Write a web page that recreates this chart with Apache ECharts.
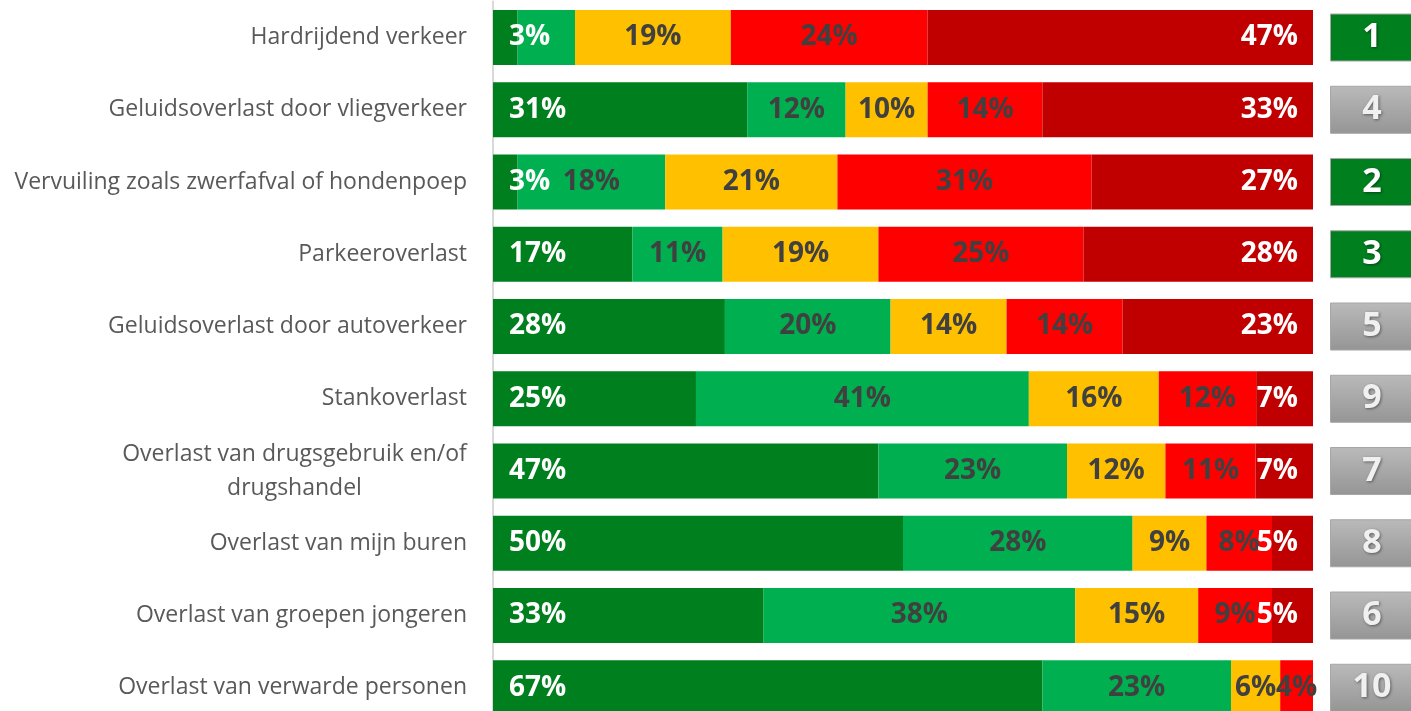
<!DOCTYPE html>
<html>
<head>
<meta charset="utf-8">
<script src="https://cdn.jsdelivr.net/npm/echarts@6.0.0/dist/echarts.min.js"></script>
<style>
  html, body { margin: 0; padding: 0; background: #fff; }
  #chart { width: 1411px; height: 711px; }
</style>
</head>
<body>
<div id="chart"></div>
<script>
// categorieen (van boven naar beneden)
var categories = [
	'Hardrijdend verkeer',
	'Geluidsoverlast door vliegverkeer',
	'Vervuiling zoals zwerfafval of hondenpoep',
	'Parkeeroverlast',
	'Geluidsoverlast door autoverkeer',
	'Stankoverlast',
	'Overlast van drugsgebruik en/of\ndrugshandel',
	'Overlast van mijn buren',
	'Overlast van groepen jongeren',
	'Overlast van verwarde personen'
];
// percentages per antwoord
var geenOverlast = [3, 31, 3, 17, 28, 25, 47, 50, 33, 67];
var weinig = [7, 12, 18, 11, 20, 41, 23, 28, 38, 23];
var neutraal = [19, 10, 21, 19, 14, 16, 12, 9, 15, 6];
var veel = [24, 14, 31, 25, 14, 12, 11, 8, 9, 4];
var zeerVeel = [47, 33, 27, 28, 23, 7, 7, 5, 5, 0];
// rangorde rechts
var ranks = [1, 4, 2, 3, 5, 9, 7, 8, 6, 10];
// labels die in het origineel niet getoond worden: [serie, rij]
var hiddenLabels = [[1, 0]];

var allSeries = [geenOverlast, weinig, neutraal, veel, zeerVeel];
var colors = ['#007F1F', '#00B050', '#FFC000', '#FF0000', '#C00000'];
var labelColors = ['#ffffff', '#404040', '#404040', '#404040', '#ffffff'];

// rijtotalen (100% gestapeld, zoals in Excel)
var rowSum = [];
for (var i = 0; i < categories.length; i++) {
	var s = 0;
	for (var k = 0; k < allSeries.length; k++) s += allSeries[k][i];
	rowSum.push(s);
}

function isHidden(k, i) {
	for (var h = 0; h < hiddenLabels.length; h++) {
		if (hiddenLabels[h][0] === k && hiddenLabels[h][1] === i) return true;
	}
	return false;
}

var catFont = 23;
// breedte van de eerste regel meten, om meerdere regels te centreren
var ctx = document.createElement('canvas').getContext('2d');
ctx.font = catFont + 'px "Open Sans"';

var series = [];
for (var k = 0; k < allSeries.length; k++) {
	var data = [];
	for (var i = 0; i < categories.length; i++) {
		var v = allSeries[k][i];
		var item = { value: v / rowSum[i] * 100, raw: v };
		if (v === 0 || isHidden(k, i)) item.label = { show: false };
		data.push(item);
	}
	var pos = 'inside', dist = 5;
	if (k === 0) { pos = 'insideLeft'; dist = 16; }
	if (k === allSeries.length - 1) { pos = 'insideRight'; dist = 15; }
	series.push({
		type: 'bar',
		stack: 'totaal',
		barWidth: 55,
		xAxisIndex: 0,
		yAxisIndex: 0,
		data: data,
		itemStyle: { color: colors[k] },
		label: {
			show: true,
			position: pos,
			distance: dist,
			color: labelColors[k],
			fontFamily: 'Open Sans',
			fontWeight: 'bold',
			fontSize: 28,
			formatter: function (p) { return p.data.raw + '%'; }
		}
	});
}

// rang-vakjes rechts
var rankData = [];
for (var i = 0; i < ranks.length; i++) {
	var top3 = ranks[i] <= 3;
	rankData.push({
		value: 1,
		rank: ranks[i],
		itemStyle: {
			color: top3 ? '#007F1F' : new echarts.graphic.LinearGradient(0, 0, 0, 1, [
				{ offset: 0, color: '#bababa' },
				{ offset: 1, color: '#959595' }
			]),
			borderColor: '#a6a6a6',
			borderWidth: 1
		},
		label: { color: top3 ? '#ffffff' : '#f0f0f0' }
	});
}
series.push({
	type: 'bar',
	xAxisIndex: 1,
	yAxisIndex: 1,
	barWidth: 48,
	data: rankData,
	label: {
		show: true,
		position: 'inside',
		fontFamily: 'Open Sans',
		fontWeight: 'bold',
		fontSize: 34,
		textShadowColor: 'rgba(0,0,0,0.45)',
		textShadowBlur: 3,
		textShadowOffsetX: 1,
		textShadowOffsetY: 1,
		formatter: function (p) { return p.data.rank; }
	}
});

var myChart = echarts.init(document.getElementById('chart'));

var firstLine = categories[6].split('\n')[0];

var option = {
	animation: false,
	grid: [
		{ left: 493, right: 98, top: 1.4, height: 722.5, outerBoundsMode: 'none' },
		{ left: 1330, right: -3, top: 1.4, height: 722.5, outerBoundsMode: 'none' }
	],
	xAxis: [
		{ gridIndex: 0, type: 'value', min: 0, max: 100, show: false },
		{ gridIndex: 1, type: 'value', min: 0, max: 1, show: false }
	],
	yAxis: [
		{
			gridIndex: 0,
			type: 'category',
			inverse: true,
			data: categories,
			axisLine: { show: true, lineStyle: { color: '#d9d9d9', width: 2 } },
			axisTick: { show: false },
			axisLabel: {
				margin: 26,
				color: '#595959',
				fontFamily: 'Open Sans',
				fontSize: catFont,
				formatter: function (val) {
					if (val.indexOf('\n') < 0) return val;
					var lines = val.split('\n');
					var out = [];
					for (var j = 0; j < lines.length; j++) out.push('{c|' + lines[j] + '}');
					return out.join('\n');
				},
				rich: {
					c: {
						width: Math.ceil(ctx.measureText(firstLine).width),
						align: 'center',
						lineHeight: 34,
						color: '#595959',
						fontFamily: 'Open Sans',
						fontSize: catFont
					}
				}
			}
		},
		{
			gridIndex: 1,
			type: 'category',
			inverse: true,
			data: categories,
			show: false
		}
	],
	series: series
};

myChart.setOption(option);
</script>
</body>
</html>
